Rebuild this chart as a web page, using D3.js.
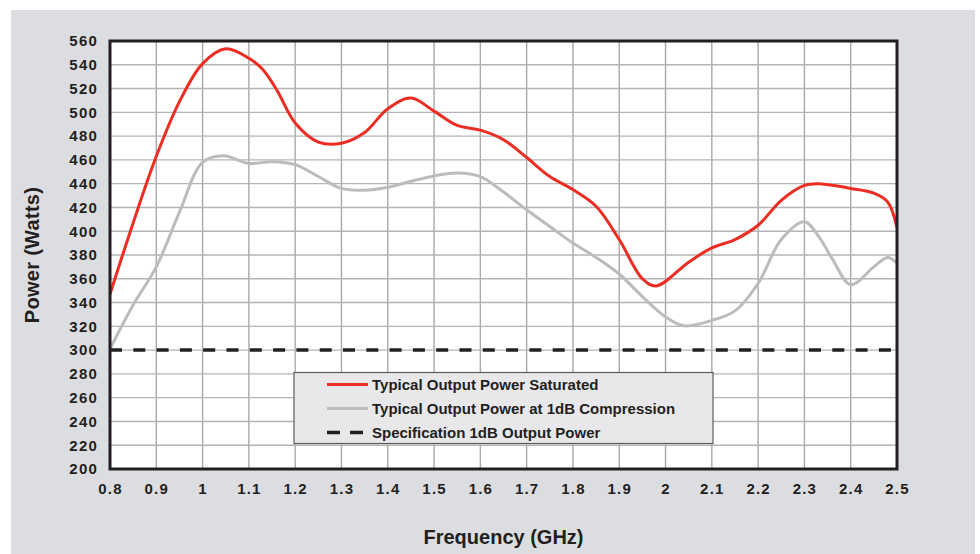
<!DOCTYPE html>
<html><head><meta charset="utf-8">
<script src="https://cdn.jsdelivr.net/npm/d3@7"></script>
<style>body{margin:0;background:#fff}svg{display:block}</style>
</head><body>
<svg id="c" width="980" height="554"></svg>
<script>
const satFreq = [0.8,0.85,0.9,0.95,1.0,1.05,1.1,1.13,1.16,1.2,1.25,1.3,1.35,1.4,1.45,1.5,1.55,1.6,1.65,1.7,1.75,1.8,1.85,1.9,1.95,1.98,2.05,2.1,2.15,2.2,2.25,2.3,2.33,2.4,2.45,2.48,2.5];
const satPower = [347,407,463,509,541,553.5,545.5,536,519,491,475,474,483,503,512,501,489,485,477,462,446,435,421,393,360,354,374,386,393,405,426,438.6,440,436,432,424.5,403];
const compFreq = [0.8,0.85,0.9,0.95,1.0,1.045,1.1,1.15,1.2,1.25,1.3,1.35,1.4,1.45,1.5,1.55,1.6,1.65,1.7,1.75,1.8,1.85,1.9,1.95,2.0,2.04,2.1,2.15,2.2,2.25,2.3,2.33,2.36,2.4,2.45,2.48,2.5];
const compPower = [301,338,370,416,458,463.5,457,458.5,456,446,436,434.5,437,442,446.5,449,446,433,418,404,390,378,364,345,328,320.5,325,333,356,393,408,396,377,355,370,378,373];
const specPower = 300;
const xTicks = [0.8,0.9,1.0,1.1,1.2,1.3,1.4,1.5,1.6,1.7,1.8,1.9,2.0,2.1,2.2,2.3,2.4,2.5];
const xTickLabels = ["0.8","0.9","1","1.1","1.2","1.3","1.4","1.5","1.6","1.7","1.8","1.9","2","2.1","2.2","2.3","2.4","2.5"];
const yTicks = [200,220,240,260,280,300,320,340,360,380,400,420,440,460,480,500,520,540,560];
const legendLabels = ["Typical Output Power Saturated","Typical Output Power at 1dB Compression","Specification 1dB Output Power"];

const svg = d3.select("#c");
const L = 110, R = 897, T = 41, B = 469;
const x = d3.scaleLinear().domain([0.8,2.5]).range([L,R]);
const y = d3.scaleLinear().domain([200,560]).range([B,T]);
const font = "'Liberation Sans', Arial, sans-serif";
const ink = "#231f20";

svg.append("rect").attr("x",11).attr("y",10).attr("width",964).attr("height",544).attr("fill","#dcdde0");
svg.append("rect").attr("x",L).attr("y",T).attr("width",R-L).attr("height",B-T).attr("fill","#fff");

// grid
svg.append("g").selectAll("line").data(xTicks).join("line")
  .attr("x1",d=>x(d)).attr("x2",d=>x(d)).attr("y1",T).attr("y2",B)
  .attr("stroke","#a9a9a9").attr("stroke-width",1.4);
svg.append("g").selectAll("line").data(yTicks).join("line")
  .attr("x1",L).attr("x2",R).attr("y1",d=>y(d)).attr("y2",d=>y(d))
  .attr("stroke","#b4b4b4").attr("stroke-width",1.4);

// axes
const ya = svg.append("g").attr("transform",`translate(${L},0)`)
  .call(d3.axisLeft(y).tickValues(yTicks).tickSize(0).tickPadding(12));
ya.select(".domain").remove();
const xa = svg.append("g").attr("transform",`translate(0,${B})`)
  .call(d3.axisBottom(x).tickValues(xTicks).tickSize(0).tickPadding(14).tickFormat((d,i)=>xTickLabels[i]));
xa.select(".domain").remove();
svg.selectAll(".tick text").attr("font-family",font).attr("font-size",15).attr("font-weight","bold")
  .attr("fill",ink).attr("letter-spacing","1.2px");

// lines
const line = d3.line().x(d=>x(d[0])).y(d=>y(d[1])).curve(d3.curveCatmullRom.alpha(0.5));
svg.append("clipPath").attr("id","pc").append("rect").attr("x",L).attr("y",T).attr("width",R-L).attr("height",B-T);
const pg = svg.append("g").attr("clip-path","url(#pc)");
pg.append("path").datum(d3.zip(compFreq,compPower)).attr("d",line)
  .attr("fill","none").attr("stroke","#bcbcbc").attr("stroke-width",3);
pg.append("path").datum(d3.zip(satFreq,satPower)).attr("d",line)
  .attr("fill","none").attr("stroke","#ec2d24").attr("stroke-width",3);
pg.append("line").attr("x1",x(0.8)).attr("x2",x(2.5)).attr("y1",y(specPower)).attr("y2",y(specPower))
  .attr("stroke",ink).attr("stroke-width",3.5).attr("stroke-dasharray","12,11.3");

// frame
svg.append("rect").attr("x",L).attr("y",T).attr("width",R-L).attr("height",B-T)
  .attr("fill","none").attr("stroke",ink).attr("stroke-width",3);

// legend
const lg = svg.append("g");
lg.append("rect").attr("x",294).attr("y",372.5).attr("width",419).attr("height",71)
  .attr("fill","#e8e8ea").attr("stroke","#5c5c5c").attr("stroke-width",1.2);
const rows = [
  {c:"#ec2d24", w:3, dash:null, y:384.5},
  {c:"#bcbcbc", w:3, dash:null, y:408.5},
  {c:ink, w:3.5, dash:"13,10", y:432.5}
];
rows.forEach((r,i)=>{
  lg.append("line").attr("x1",327).attr("x2",368).attr("y1",r.y).attr("y2",r.y)
    .attr("stroke",r.c).attr("stroke-width",r.w).attr("stroke-dasharray",r.dash);
  lg.append("text").attr("x",372).attr("y",r.y+5.5).text(legendLabels[i])
    .attr("font-family",font).attr("font-size",15).attr("font-weight","bold").attr("fill",ink);
});

// titles
svg.append("text").attr("transform",`translate(39,${(T+B)/2}) rotate(-90)`).attr("text-anchor","middle")
  .attr("font-family",font).attr("font-size",20).attr("font-weight","bold").attr("fill",ink)
  .attr("letter-spacing","0.3px").text("Power (Watts)");
svg.append("text").attr("x",(L+R)/2).attr("y",544).attr("text-anchor","middle")
  .attr("font-family",font).attr("font-size",20).attr("font-weight","bold").attr("fill",ink)
  .text("Frequency (GHz)");
</script>
</body></html>
